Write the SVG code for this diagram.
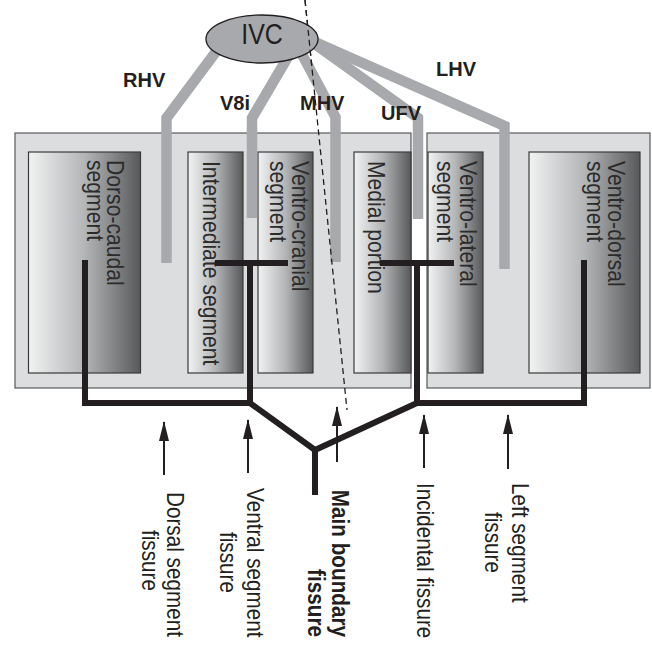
<svg xmlns="http://www.w3.org/2000/svg" width="652" height="646" viewBox="0 0 652 646">
<defs>
<linearGradient id="seg" x1="0" y1="0" x2="1" y2="0">
<stop offset="0" stop-color="#f1f2f2"/>
<stop offset="0.5" stop-color="#b4b5b7"/>
<stop offset="1" stop-color="#58595b"/>
</linearGradient>
<marker id="ah" viewBox="0 0 10 20" refX="10" refY="5" markerWidth="10" markerHeight="20" markerUnits="userSpaceOnUse" orient="auto">
<path d="M0,0 L20,5 L0,10 Z" fill="#231f20"/>
</marker>
<marker id="arr" viewBox="0 0 20 10" refX="19" refY="5" markerWidth="20" markerHeight="10" markerUnits="userSpaceOnUse" orient="auto">
<path d="M0,0 L20,5 L0,10 Z" fill="#231f20"/>
</marker>
</defs>
<style>
.outer{fill:#dcddde;stroke:#58595b;stroke-width:1.2}
.seg{fill:url(#seg);stroke:#3a3a3a;stroke-width:1.2}
.vein{fill:none;stroke:#a7a9ac;stroke-width:10.5;stroke-linejoin:miter;stroke-linecap:butt}
.fis{fill:none;stroke:#231f20;stroke-width:6;stroke-linecap:square;stroke-linejoin:miter}
.arrow{stroke:#231f20;stroke-width:2;fill:none;marker-end:url(#arr)}
.dash{stroke:#231f20;stroke-width:1.3;stroke-dasharray:6,4;fill:none}
.vl{font-family:"Liberation Sans",Arial,sans-serif;font-weight:bold;font-size:20px;fill:#231f20}
.sl{font-family:"Liberation Sans",Arial,sans-serif;font-size:23px;fill:#2b2b2b}
.fl{font-family:"Liberation Sans",Arial,sans-serif;font-size:23px;fill:#231f20}
.flb{font-family:"Liberation Sans",Arial,sans-serif;font-size:23px;font-weight:bold;fill:#231f20}
</style>
<rect width="652" height="646" fill="#ffffff"/>

<g id="right-lobe-box"><rect class="outer" x="15" y="133" width="396" height="255"/></g>
<g id="left-lobe-box"><rect class="outer" x="427" y="133" width="223" height="255"/></g>

<g id="dorso-caudal">
<rect class="seg" x="28.5" y="152" width="112" height="221"/>
<text class="sl" transform="translate(107,160) rotate(90) scale(0.92,1)">Dorso-caudal</text>
<text class="sl" transform="translate(87,160) rotate(90) scale(0.92,1)">segment</text>
</g>
<g id="intermediate">
<rect class="seg" x="188" y="152" width="55" height="221"/>
<text class="sl" transform="translate(203,161) rotate(90) scale(0.92,1)">Intermediate segment</text>
</g>
<g id="ventro-cranial">
<rect class="seg" x="258" y="152" width="55" height="221"/>
<text class="sl" transform="translate(292,161) rotate(90) scale(0.92,1)">Ventro-cranial</text>
<text class="sl" transform="translate(270,161) rotate(90) scale(0.92,1)">segment</text>
</g>
<g id="medial-portion">
<rect class="seg" x="354" y="152" width="57" height="221"/>
<text class="sl" transform="translate(368,161) rotate(90) scale(0.92,1)">Medial portion</text>
</g>
<g id="ventro-lateral">
<rect class="seg" x="428" y="152" width="55" height="221"/>
<text class="sl" transform="translate(460,161) rotate(90) scale(0.92,1)">Ventro-lateral</text>
<text class="sl" transform="translate(437,161) rotate(90) scale(0.92,1)">segment</text>
</g>
<g id="ventro-dorsal">
<rect class="seg" x="529" y="152" width="111" height="221"/>
<text class="sl" transform="translate(608,161) rotate(90) scale(0.92,1)">Ventro-dorsal</text>
<text class="sl" transform="translate(587,161) rotate(90) scale(0.92,1)">segment</text>
</g>

<g id="connectors">
<path id="RHV" class="vein" d="M221,45 L166.5,118 L166.5,263"/>
<path id="V8i" class="vein" d="M292,50 L252,118 L252,218"/>
<path id="MHV" class="vein" d="M297,45 L335.5,117 L335.5,262"/>
<path id="UFV" class="vein" d="M312,42 L418,118 L418,219"/>
<path id="LHV" class="vein" d="M315,42 L504.5,126 L504.5,269"/>
<path class="fis" d="M85,263 L85,403 L250,403 L250,263"/>
<path class="fis" d="M218,263 L285,263"/>
<path class="fis" d="M584,263 L584,403 L417,403 L417,263"/>
<path class="fis" d="M383,263 L451,263"/>
<path class="fis" style="stroke-linecap:butt" d="M250,403 L315,450 L417,403"/>
<path class="fis" style="stroke-linecap:butt" d="M315,450 L315,495"/>
<line class="arrow" x1="164" y1="475" x2="164" y2="422"/>
<line class="arrow" x1="248" y1="473" x2="248" y2="420"/>
<line class="arrow" x1="337" y1="462" x2="337" y2="407"/>
<line class="arrow" x1="424" y1="468" x2="424" y2="415"/>
<line class="arrow" x1="508" y1="469" x2="508" y2="415"/>
<line class="dash" x1="305" y1="0" x2="347" y2="410"/>
</g>

<g id="IVC">
<ellipse cx="262" cy="39" rx="56" ry="24" fill="#a7a9ac" stroke="#231f20" stroke-width="1.3"/>
<text transform="translate(262,44) scale(0.86,1)" text-anchor="middle" font-family="'Liberation Sans',Arial,sans-serif" font-size="29" fill="#231f20">IVC</text>
</g>
<line class="dash" x1="305" y1="0" x2="312" y2="68"/>

<g id="vein-labels">
<text class="vl" x="123" y="87">RHV</text>
<text class="vl" x="220" y="110">V8i</text>
<text class="vl" x="300" y="110">MHV</text>
<text class="vl" x="381" y="120">UFV</text>
<text class="vl" x="436" y="76">LHV</text>
</g>

<g id="fissure-labels">
<text class="fl" transform="translate(167,492) rotate(90) scale(0.9,1)">Dorsal segment</text>
<text class="fl" transform="translate(142,530) rotate(90) scale(0.9,1)">fissure</text>
<text class="fl" transform="translate(247,488) rotate(90) scale(0.9,1)">Ventral segment</text>
<text class="fl" transform="translate(220,532) rotate(90) scale(0.9,1)">fissure</text>
<text class="flb" text-anchor="end" transform="translate(332,637) rotate(90) scale(0.9,1)">Main boundary</text>
<text class="flb" text-anchor="end" transform="translate(308,637) rotate(90) scale(0.9,1)">fissure</text>
<text class="fl" transform="translate(417,483) rotate(90) scale(0.9,1)">Incidental fissure</text>
<text class="fl" transform="translate(512,483) rotate(90) scale(0.9,1)">Left segment</text>
<text class="fl" transform="translate(485,512) rotate(90) scale(0.9,1)">fissure</text>
</g>
</svg>
